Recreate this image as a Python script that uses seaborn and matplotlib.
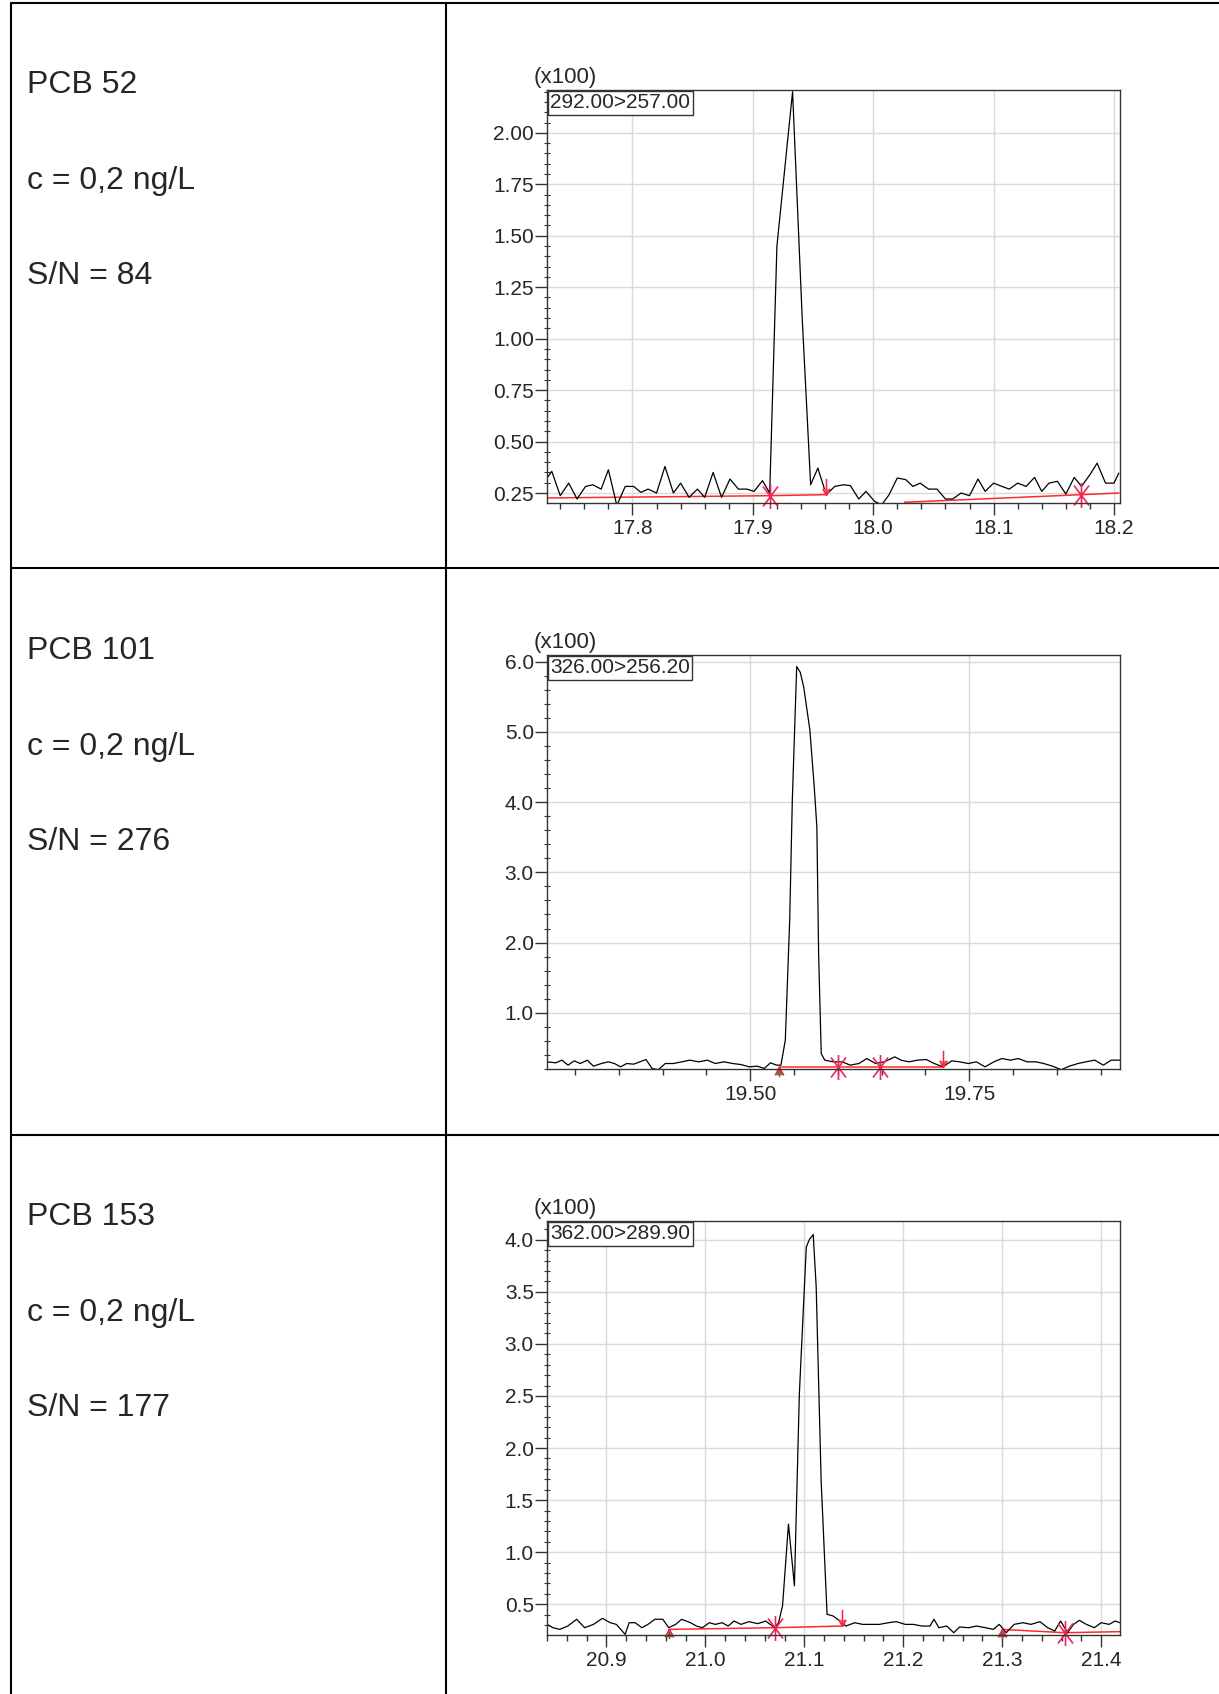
import matplotlib
matplotlib.use('Agg')
import matplotlib.pyplot as plt
from matplotlib.lines import Line2D
from matplotlib.path import Path
from matplotlib.ticker import MultipleLocator, FormatStrFormatter
import seaborn as sns

W, H = 1219, 1694

# ---- PCB 52 (292.00>257.00) ----
t52 = [17.729, 17.733, 17.740, 17.747, 17.754, 17.761, 17.767, 17.774, 17.780, 17.787,
       17.794, 17.801, 17.807, 17.813, 17.820, 17.827, 17.834, 17.840, 17.847, 17.854,
       17.860, 17.867, 17.874, 17.881, 17.888, 17.895, 17.901, 17.908, 17.914, 17.920,
       17.933, 17.941, 17.948, 17.954, 17.961, 17.968, 17.975, 17.981, 17.988, 17.994,
       18.001, 18.007, 18.013, 18.020, 18.027, 18.033, 18.039, 18.046, 18.053, 18.060,
       18.066, 18.073, 18.080, 18.087, 18.093, 18.100, 18.107, 18.113, 18.120, 18.127,
       18.134, 18.140, 18.146, 18.153, 18.160, 18.167, 18.173, 18.180, 18.186, 18.193,
       18.200, 18.204]
i52 = [0.323, 0.355, 0.237, 0.298, 0.221, 0.282, 0.290, 0.269, 0.363, 0.190,
       0.282, 0.282, 0.253, 0.269, 0.250, 0.379, 0.250, 0.298, 0.229, 0.269,
       0.229, 0.350, 0.229, 0.318, 0.269, 0.269, 0.258, 0.310, 0.250, 1.45,
       2.20, 1.10, 0.29, 0.371, 0.242, 0.282, 0.290, 0.286, 0.221, 0.258,
       0.210, 0.193, 0.240, 0.323, 0.315, 0.282, 0.298, 0.269, 0.269, 0.221,
       0.221, 0.250, 0.237, 0.318, 0.258, 0.298, 0.282, 0.269, 0.298, 0.282,
       0.326, 0.258, 0.298, 0.307, 0.245, 0.326, 0.282, 0.339, 0.395, 0.298,
       0.298, 0.347]
base52 = [([17.729, 17.914, 17.961], [0.226, 0.237, 0.242]),
          ([18.026, 18.173, 18.204], [0.205, 0.242, 0.250])]
star52 = ([17.914, 18.173], [0.237, 0.242])
down52 = ([17.961], [0.242])
up52 = ([], [])

# ---- PCB 101 (326.00>256.20) ----
t101 = [19.268, 19.278, 19.285, 19.292, 19.299, 19.306, 19.314, 19.321, 19.330, 19.338,
        19.345, 19.352, 19.359, 19.367, 19.374, 19.381, 19.388, 19.395, 19.403, 19.412,
        19.422, 19.431, 19.441, 19.451, 19.460, 19.470, 19.480, 19.489, 19.499, 19.508,
        19.516, 19.523, 19.530, 19.535, 19.540, 19.545, 19.548, 19.553, 19.557, 19.561,
        19.568, 19.573, 19.576, 19.578, 19.581, 19.585, 19.595, 19.605, 19.614, 19.624,
        19.633, 19.643, 19.653, 19.665, 19.672, 19.681, 19.691, 19.701, 19.710, 19.720,
        19.730, 19.739, 19.749, 19.758, 19.768, 19.778, 19.787, 19.797, 19.806, 19.816,
        19.826, 19.835, 19.845, 19.855, 19.864, 19.874, 19.883, 19.893, 19.903, 19.912,
        19.922]
i101 = [0.302, 0.288, 0.326, 0.255, 0.316, 0.278, 0.326, 0.240, 0.278, 0.302,
        0.278, 0.231, 0.278, 0.269, 0.302, 0.335, 0.207, 0.190, 0.278, 0.278,
        0.302, 0.326, 0.302, 0.326, 0.278, 0.302, 0.278, 0.264, 0.231, 0.240,
        0.207, 0.288, 0.255, 0.255, 0.61, 2.32, 4.03, 5.93, 5.85, 5.64,
        5.03, 4.22, 3.65, 1.85, 0.42, 0.326, 0.302, 0.302, 0.255, 0.278,
        0.349, 0.278, 0.302, 0.373, 0.326, 0.302, 0.326, 0.335, 0.278, 0.231,
        0.316, 0.302, 0.278, 0.302, 0.231, 0.302, 0.349, 0.326, 0.349, 0.302,
        0.302, 0.278, 0.240, 0.190, 0.240, 0.278, 0.302, 0.326, 0.255, 0.326,
        0.326]
base101 = [([19.533, 19.720], [0.225, 0.225])]
star101 = ([19.600, 19.648], [0.235, 0.235])
down101 = ([19.720], [0.225])
up101 = ([19.533], [0.225])

# ---- PCB 153 (362.00>289.90) ----
t153 = [20.840, 20.846, 20.853, 20.861, 20.870, 20.878, 20.887, 20.896, 20.904, 20.910,
        20.919, 20.923, 20.929, 20.936, 20.942, 20.949, 20.957, 20.963, 20.970, 20.976,
        20.985, 20.991, 20.997, 21.004, 21.010, 21.017, 21.023, 21.029, 21.036, 21.044,
        21.053, 21.061, 21.070, 21.074, 21.078, 21.084, 21.090, 21.095, 21.102, 21.105,
        21.109, 21.112, 21.117, 21.123, 21.129, 21.136, 21.142, 21.151, 21.159, 21.168,
        21.176, 21.185, 21.193, 21.202, 21.210, 21.219, 21.227, 21.231, 21.236, 21.244,
        21.251, 21.257, 21.266, 21.274, 21.283, 21.291, 21.297, 21.304, 21.312, 21.321,
        21.329, 21.338, 21.346, 21.353, 21.359, 21.366, 21.372, 21.378, 21.385, 21.393,
        21.400, 21.408, 21.414, 21.419]
i153 = [0.307, 0.275, 0.259, 0.291, 0.356, 0.275, 0.307, 0.365, 0.323, 0.307,
        0.211, 0.323, 0.323, 0.275, 0.307, 0.356, 0.356, 0.275, 0.307, 0.356,
        0.323, 0.291, 0.275, 0.323, 0.307, 0.323, 0.291, 0.339, 0.307, 0.333,
        0.314, 0.339, 0.275, 0.323, 0.484, 1.270, 0.677, 2.52, 3.93, 4.00,
        4.05, 3.55, 1.69, 0.404, 0.388, 0.339, 0.291, 0.323, 0.307, 0.307,
        0.307, 0.323, 0.333, 0.307, 0.307, 0.291, 0.291, 0.356, 0.275, 0.291,
        0.227, 0.282, 0.275, 0.291, 0.275, 0.259, 0.307, 0.227, 0.307, 0.323,
        0.307, 0.333, 0.275, 0.243, 0.339, 0.227, 0.307, 0.346, 0.307, 0.275,
        0.323, 0.307, 0.339, 0.323]
base153 = [([20.963, 21.070, 21.138], [0.259, 0.275, 0.291]),
           ([21.300, 21.363, 21.419], [0.259, 0.227, 0.237])]
star153 = ([21.070, 21.363], [0.275, 0.227])
down153 = ([21.138], [0.291])
up153 = ([20.963, 21.300], [0.259, 0.259])

names = ['PCB 52', 'PCB 101', 'PCB 153']
concs = ['c = 0,2 ng/L', 'c = 0,2 ng/L', 'c = 0,2 ng/L']
sn = ['S/N = 84', 'S/N = 276', 'S/N = 177']
transitions = ['292.00>257.00', '326.00>256.20', '362.00>289.90']

sns.set_style('white')
plt.rcParams['font.family'] = ['Liberation Sans', 'DejaVu Sans']

# peak-integration marks (tall asterisk, arrow down onto tip, arrow up from tip)
M, L = Path.MOVETO, Path.LINETO
STAR = Path([(0, -1), (0, 1), (-0.6, -0.8), (0.6, 0.8), (-0.6, 0.8), (0.6, -0.8)],
            [M, L, M, L, M, L])
DOWN = Path([(0, 0), (0, 2), (-0.45, 0.8), (0, 0), (0.45, 0.8)], [M, L, M, L, L])
UP = Path([(0, 0), (0, -1), (-0.45, -0.8), (0, 0), (0.45, -0.8)], [M, L, M, L, L])

fig = plt.figure(figsize=(W / 100, H / 100), dpi=100)


def px(x, y):
    return x / W, 1 - y / H


# table grid
for (x0, y0), (x1, y1) in [((11, 3), (1219, 3)), ((11, 3), (11, 1694)),
                           ((446, 3), (446, 1694)), ((11, 568), (1219, 568)),
                           ((11, 1135), (1219, 1135))]:
    a, b = px(x0, y0)
    c, d = px(x1, y1)
    fig.add_artist(Line2D([a, c], [b, d], color='black', lw=1.5))

# left column text
for k in range(3):
    off = 566 * k
    for txt, yb in zip([names[k], concs[k], sn[k]], [93, 189, 284]):
        fig.text(*px(27, yb + off), txt, fontsize=23, va='baseline', ha='left')

panels = [
    dict(t=t52, i=i52, base=base52, star=star52, down=down52, up=up52,
         box=(90, 503), xlim=(17.729, 18.205), ylim=(0.2015, 2.208),
         xmaj=0.1, xmin=0.02, xfmt='%.1f', ymaj=0.25, ymin=0.05, yfmt='%.2f', ystart=0.25),
    dict(t=t101, i=i101, base=base101, star=star101, down=down101, up=up101,
         box=(655, 1069), xlim=(19.268, 19.922), ylim=(0.20, 6.095),
         xmaj=0.25, xmin=0.05, xfmt='%.2f', ymaj=1.0, ymin=0.2, yfmt='%.1f', ystart=1.0),
    dict(t=t153, i=i153, base=base153, star=star153, down=down153, up=up153,
         box=(1221, 1635), xlim=(20.840, 21.419), ylim=(0.205, 4.18),
         xmaj=0.1, xmin=0.02, xfmt='%.1f', ymaj=0.5, ymin=0.1, yfmt='%.1f', ystart=0.5),
]

red = '#ff2a2a'
mark = '#f0245a'
for k, p in enumerate(panels):
    top, bot = p['box']
    ax = fig.add_axes([547 / W, 1 - bot / H, (1120 - 547) / W, (bot - top) / H])
    ax.set_xlim(*p['xlim'])
    ax.set_ylim(*p['ylim'])
    ax.grid(True, which='major', color='#dadada', lw=1)
    ax.set_axisbelow(True)

    for bt, bv in p['base']:
        sns.lineplot(x=bt, y=bv, ax=ax, color=red, lw=1.1, estimator=None)
    sns.lineplot(x=p['t'], y=p['i'], ax=ax, color='black', lw=0.9, estimator=None,
                 sort=False)
    ax.plot(*p['star'], ls='none', marker=STAR, ms=18, mec=mark, mew=1.2, clip_on=False)
    ax.plot(*p['down'], ls='none', marker=DOWN, ms=24, mec=mark, mew=1.1, clip_on=False)
    ax.plot(*p['up'], ls='none', marker=UP, ms=14, mec=mark, mew=1.1, clip_on=False)

    ax.xaxis.set_major_locator(MultipleLocator(p['xmaj']))
    ax.xaxis.set_minor_locator(MultipleLocator(p['xmin']))
    ax.xaxis.set_major_formatter(FormatStrFormatter(p['xfmt']))
    yt = []
    v = p['ystart']
    while v <= p['ylim'][1] + 1e-9:
        yt.append(round(v, 3))
        v += p['ymaj']
    ax.set_yticks(yt)
    ax.yaxis.set_minor_locator(MultipleLocator(p['ymin']))
    ax.yaxis.set_major_formatter(FormatStrFormatter(p['yfmt']))
    ax.tick_params(axis='x', which='major', direction='out', length=8.5, width=1,
                   pad=3, labelsize=15, color='#333333', bottom=True)
    ax.tick_params(axis='x', which='minor', direction='out', length=4.5, width=1,
                   color='#333333', bottom=True)
    ax.tick_params(axis='y', which='major', direction='out', length=8.5, width=1,
                   pad=1, labelsize=15, color='#333333', left=True)
    ax.tick_params(axis='y', which='minor', direction='inout', length=5, width=0.8,
                   color='#333333', left=True)
    for s in ax.spines.values():
        s.set_visible(True)
        s.set_color('#333333')
        s.set_linewidth(1)
    ax.set_xlabel('')
    ax.set_ylabel('')

    ax.text(-0.024, 1.004, '(x100)', transform=ax.transAxes, fontsize=16,
            va='bottom', ha='left')
    ax.annotate(transitions[k], xy=(0, 1), xycoords='axes fraction',
                xytext=(2.2, -2.2), textcoords='offset points', va='top', ha='left',
                fontsize=15,
                bbox=dict(boxstyle='square,pad=0.12', fc='white', ec='#333333', lw=1))

fig.savefig('out.png', dpi=100)
